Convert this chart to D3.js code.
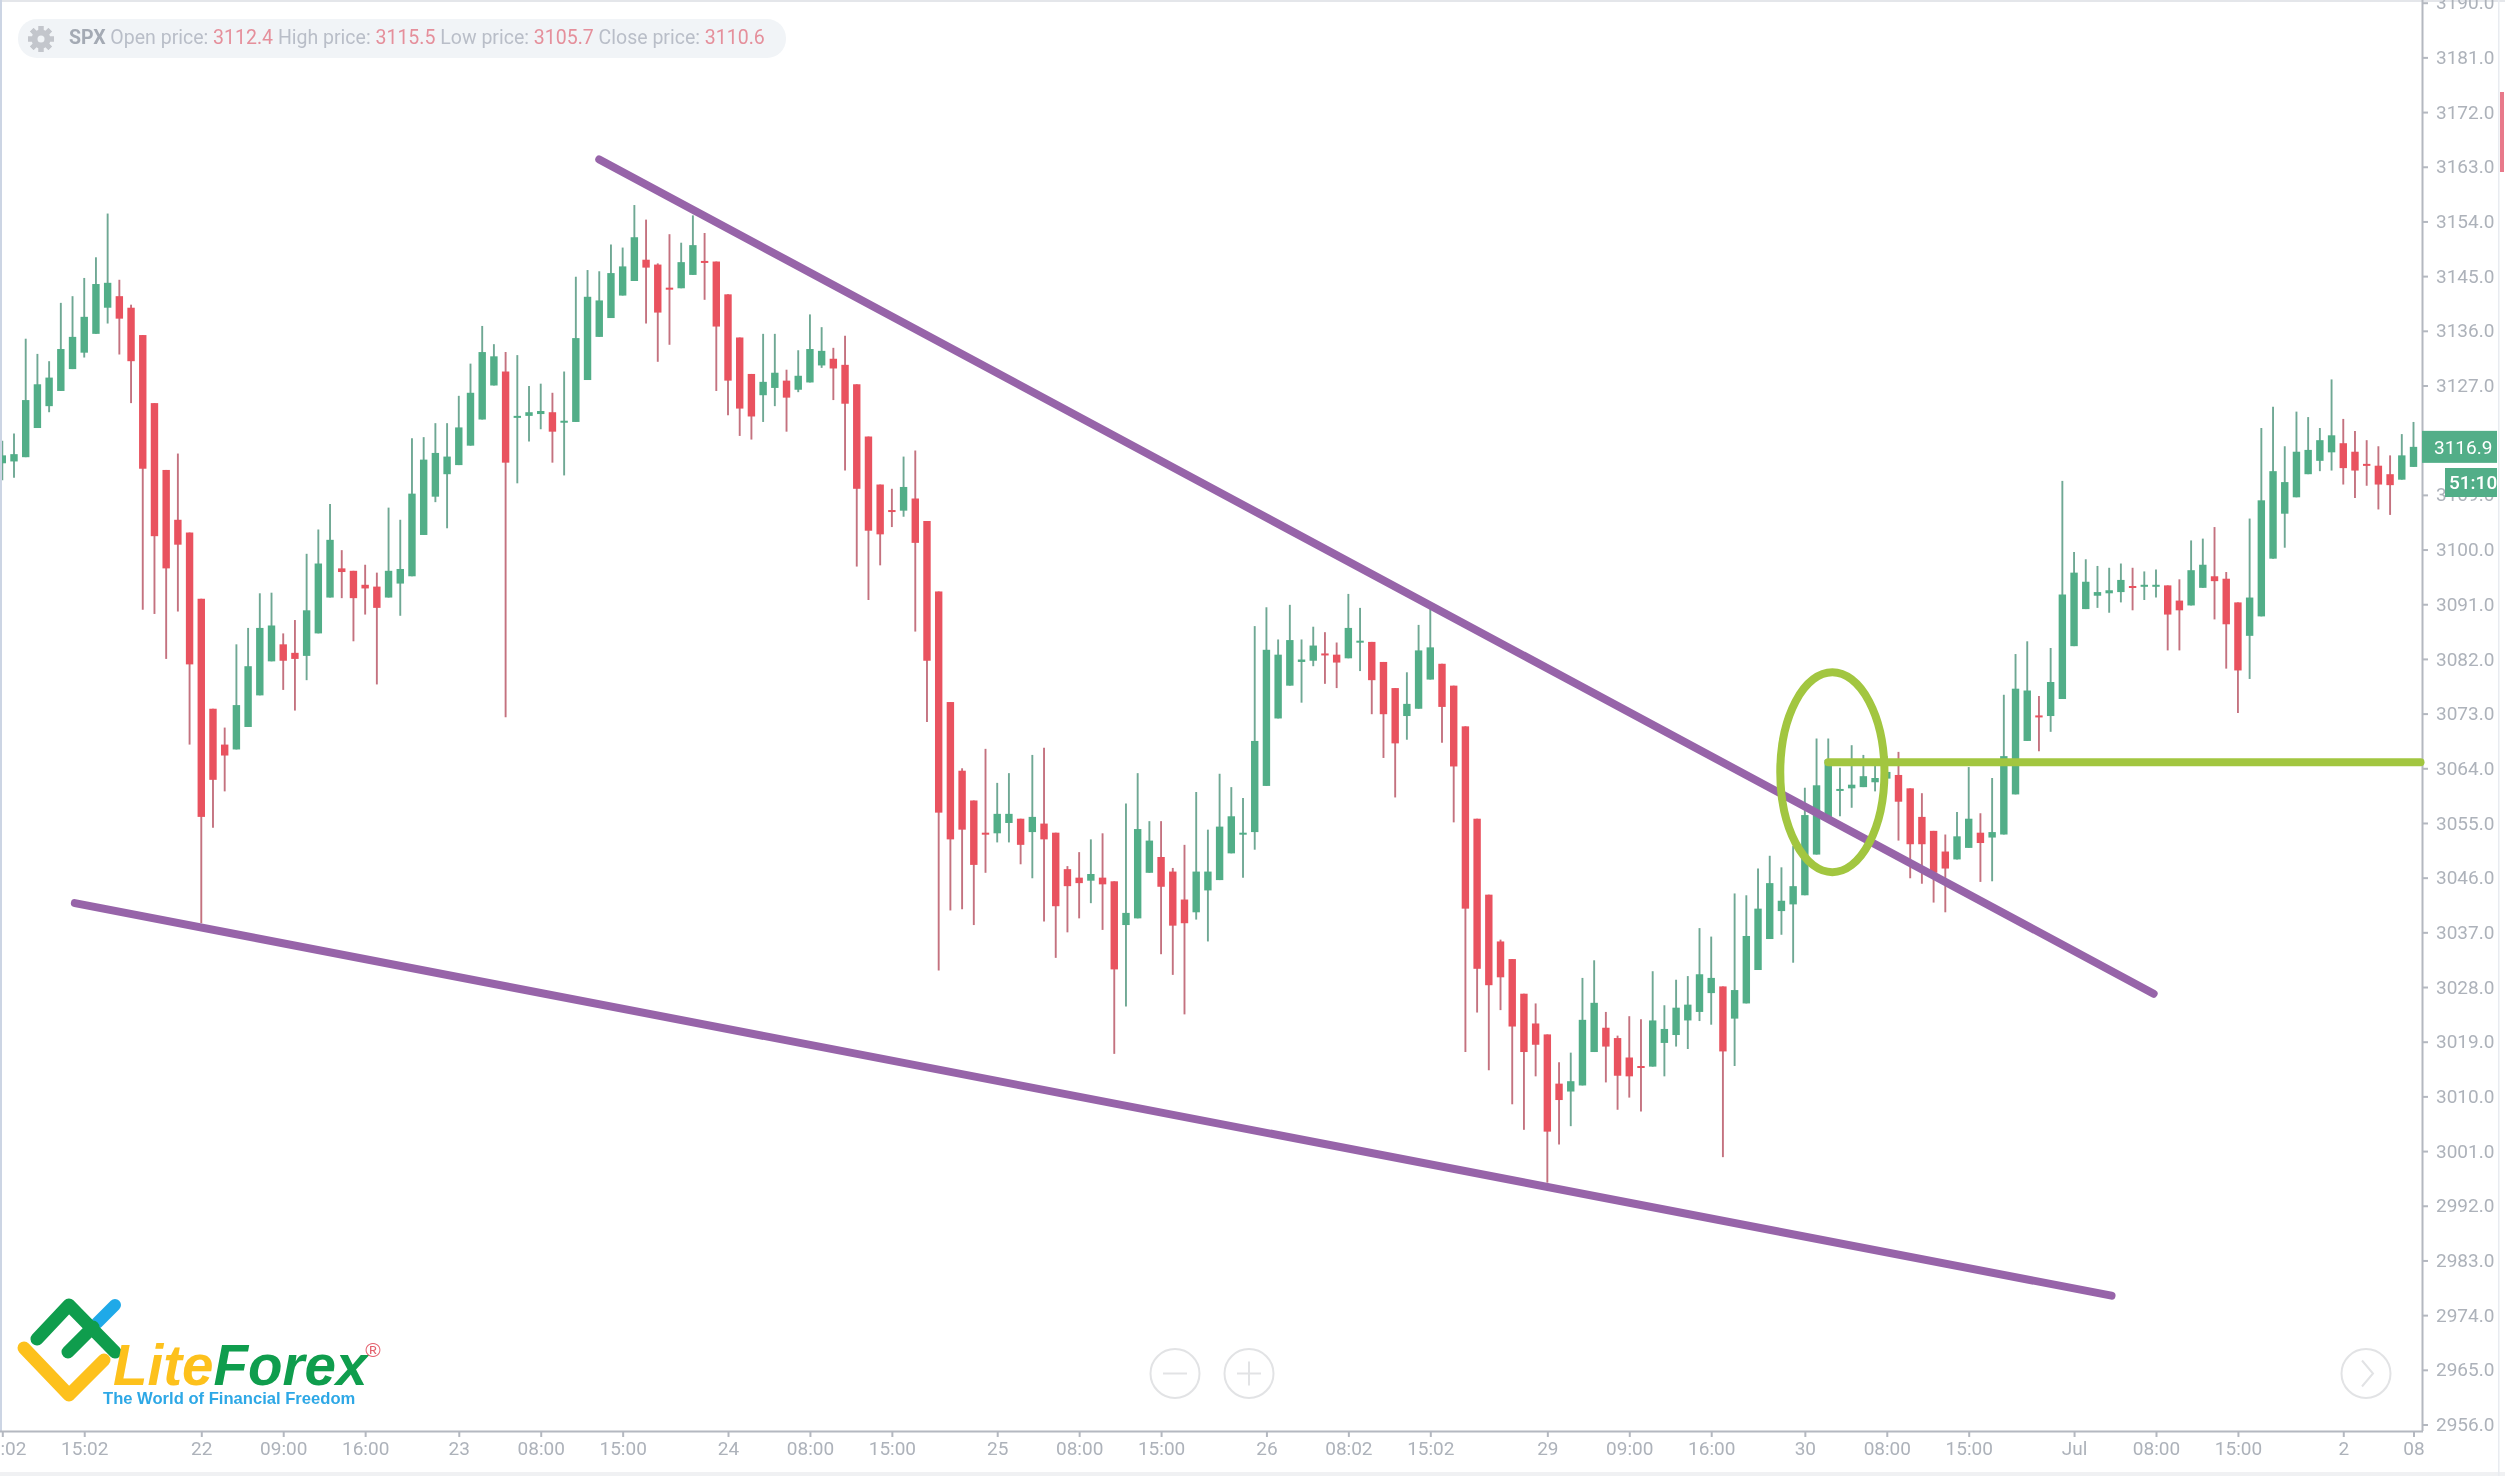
<!DOCTYPE html>
<html>
<head>
<meta charset="utf-8">
<title>SPX</title>
<script src="https://d3js.org/d3.v7.min.js"></script>
<style>
  html, body { margin: 0; padding: 0; background: #fff; overflow: hidden; }
  svg { display: block; filter: blur(0.7px); }
  text { font-family: Roboto, sans-serif; }
</style>
</head>
<body>
<div id="chart"></div>
<script>
"use strict";

// hourly SPX candles
const opens = [
  3114.2,3114.5,3115.2,3120.0,3123.6,3126.1,3129.7,3132.4,3135.5,3139.8,
  3141.7,3139.8,3135.3,3124.1,3113.1,3104.9,3102.8,3091.9,3073.8,3067.9,
  3067.1,3070.8,3076.0,3081.6,3084.4,3083.0,3082.5,3086.2,3092.1,3096.9,
  3096.5,3094.2,3093.9,3092.1,3094.4,3095.6,3102.4,3108.7,3112.4,3113.9,
  3117.1,3121.4,3127.0,3129.3,3121.8,3122.0,3122.3,3122.6,3121.0,3121.0,
  3127.9,3135.0,3138.1,3141.8,3144.2,3147.7,3146.9,3143.1,3143.0,3145.2,
  3147.5,3147.4,3142.0,3134.9,3128.9,3125.4,3126.6,3127.8,3126.3,3127.5,
  3130.3,3131.4,3130.4,3127.2,3118.6,3110.7,3106.5,3106.4,3108.4,3104.7,
  3093.1,3074.9,3063.6,3058.7,3053.4,3053.3,3055.0,3055.7,3053.5,3054.9,
  3053.4,3047.4,3046.0,3045.5,3046.0,3045.4,3038.2,3039.3,3046.8,3049.4,
  3047.0,3042.4,3040.3,3043.9,3045.6,3050.0,3053.2,3053.5,3061.1,3072.2,
  3077.6,3081.5,3081.7,3082.9,3082.7,3082.1,3084.8,3084.8,3081.5,3077.2,
  3072.6,3073.8,3078.6,3081.2,3077.6,3070.9,3055.7,3043.2,3035.5,3032.6,
  3026.9,3022.0,3020.2,3012.1,3010.8,3011.8,3017.3,3021.3,3019.6,3016.4,
  3015.0,3014.9,3018.8,3020.1,3022.5,3023.9,3027.0,3028.1,3022.8,3025.3,
  3030.8,3035.9,3040.5,3041.6,3043.1,3049.8,3056.0,3060.4,3060.7,3060.9,
  3061.7,3062.3,3062.9,3060.7,3056.0,3053.7,3050.3,3049.0,3050.9,3053.4,
  3052.6,3053.1,3059.7,3068.5,3072.7,3072.6,3075.4,3084.1,3090.2,3092.4,
  3092.8,3093.0,3094.0,3094.0,3094.0,3094.1,3091.6,3090.8,3093.7,3095.6,
  3095.2,3091.3,3085.8,3089.0,3098.5,3105.9,3108.6,3112.4,3114.6,3116.0,
  3117.5,3116.1,3114.1,3113.8,3112.4,3111.5,3113.6
];
const highs = [
  3117.9,3119.1,3134.7,3132.2,3131.0,3140.6,3141.7,3144.7,3148.1,3155.3,
  3144.4,3140.3,3135.3,3124.1,3113.1,3115.8,3102.8,3091.9,3073.8,3070.7,
  3084.4,3087.1,3092.8,3092.9,3086.2,3088.4,3099.3,3103.3,3107.5,3099.9,
  3096.5,3097.5,3096.2,3106.9,3104.9,3118.3,3118.5,3120.8,3120.8,3125.3,
  3130.6,3136.8,3133.8,3132.5,3132.0,3126.9,3127.3,3125.8,3129.3,3144.9,
  3146.0,3145.8,3150.2,3149.7,3156.7,3154.3,3147.1,3151.9,3150.5,3155.0,
  3152.1,3147.4,3142.0,3134.9,3128.9,3135.5,3135.5,3129.6,3132.8,3138.7,
  3136.6,3133.2,3135.2,3127.2,3118.6,3110.7,3110.0,3115.3,3116.3,3104.7,
  3093.1,3074.9,3064.0,3058.7,3067.2,3061.6,3063.2,3055.7,3066.2,3067.4,
  3053.4,3047.9,3050.2,3052.3,3053.3,3045.4,3058.2,3063.2,3055.3,3055.3,
  3047.6,3051.4,3060.1,3053.9,3063.1,3060.9,3059.1,3087.4,3090.5,3085.2,
  3090.9,3085.2,3087.3,3086.4,3084.7,3092.7,3090.4,3084.8,3081.5,3077.2,
  3079.8,3087.6,3090.2,3081.2,3077.6,3070.9,3055.7,3043.2,3035.8,3032.6,
  3026.9,3025.3,3020.2,3015.6,3017.2,3029.5,3032.4,3023.9,3020.0,3023.2,
  3022.7,3030.6,3025.0,3029.2,3029.8,3037.7,3036.3,3028.1,3043.4,3043.1,
  3047.5,3049.6,3047.7,3051.2,3060.8,3068.9,3068.9,3064.1,3067.8,3066.2,
  3064.4,3066.0,3066.7,3060.7,3059.9,3053.7,3053.1,3056.8,3064.2,3056.6,
  3062.4,3076.1,3082.8,3084.9,3075.9,3083.8,3111.3,3099.6,3098.4,3097.3,
  3097.0,3097.7,3097.0,3096.4,3096.7,3094.1,3095.1,3101.5,3101.8,3103.7,
  3096.3,3091.3,3105.1,3120.0,3123.5,3117.0,3122.7,3121.8,3120.0,3128.0,
  3121.5,3119.5,3118.0,3117.0,3115.5,3119.0,3121.0
];
const lows = [
  3111.4,3111.8,3115.2,3120.0,3122.6,3126.1,3129.7,3131.6,3135.5,3137.2,
  3132.1,3124.1,3090.1,3089.4,3082.0,3089.8,3067.9,3038.5,3054.2,3060.2,
  3067.1,3070.8,3076.0,3081.6,3076.9,3073.5,3078.5,3086.2,3092.1,3092.0,
  3084.9,3089.3,3077.8,3092.1,3089.1,3095.6,3102.4,3107.8,3103.5,3113.9,
  3117.1,3121.4,3127.0,3072.4,3110.9,3117.8,3119.8,3114.3,3112.2,3121.0,
  3127.9,3135.0,3138.1,3141.8,3144.2,3137.2,3130.9,3133.7,3143.0,3145.2,
  3141.1,3126.1,3122.1,3118.7,3118.1,3121.0,3123.6,3119.4,3125.9,3127.5,
  3129.9,3124.6,3113.0,3097.2,3091.7,3097.4,3103.7,3105.4,3086.5,3071.6,
  3030.7,3040.6,3040.8,3038.2,3046.8,3051.8,3051.8,3048.2,3045.9,3038.8,
  3032.8,3037.0,3039.3,3041.8,3037.4,3017.0,3024.8,3039.3,3046.8,3033.4,
  3030.0,3023.5,3039.1,3035.5,3045.6,3050.0,3046.0,3050.6,3061.1,3072.2,
  3077.6,3074.8,3080.8,3077.9,3077.2,3082.1,3080.0,3072.9,3065.7,3059.2,
  3068.7,3073.8,3078.6,3068.2,3055.1,3017.3,3023.8,3014.3,3024.2,3008.7,
  3004.5,3013.3,2995.8,3002.1,3005.1,3011.8,3017.3,3012.3,3007.8,3009.8,
  3007.5,3014.9,3013.3,3018.2,3017.8,3022.4,3021.8,3000.0,3015.0,3025.3,
  3030.8,3035.9,3036.6,3032.0,3043.1,3049.8,3055.5,3056.1,3057.5,3060.9,
  3060.2,3062.3,3052.1,3045.9,3045.0,3041.9,3040.3,3049.0,3050.9,3045.3,
  3045.4,3053.1,3059.7,3068.5,3066.8,3070.0,3075.4,3084.1,3090.2,3090.4,
  3089.6,3091.3,3090.0,3091.7,3092.1,3083.4,3083.4,3090.8,3093.7,3088.5,
  3080.4,3073.1,3078.7,3089.0,3098.5,3100.3,3108.6,3112.4,3112.9,3113.0,
  3110.7,3108.5,3110.5,3106.6,3105.7,3111.5,3113.6
];
const closes = [
  3115.5,3115.7,3124.6,3127.2,3128.3,3133.0,3135.0,3138.3,3143.7,3143.9,
  3138.0,3131.0,3113.3,3102.2,3096.9,3100.8,3081.1,3056.0,3062.1,3066.1,
  3074.4,3080.8,3087.1,3087.5,3081.7,3082.0,3090.0,3097.7,3101.6,3096.3,
  3092.0,3093.6,3090.4,3096.5,3096.8,3109.2,3114.8,3115.9,3115.3,3120.1,
  3125.8,3132.5,3131.8,3114.3,3122.0,3122.6,3122.8,3119.4,3121.2,3134.8,
  3141.6,3141.0,3145.5,3146.6,3151.4,3146.4,3139.0,3142.9,3147.3,3150.1,
  3147.3,3136.7,3127.8,3123.2,3121.9,3127.6,3129.1,3125.0,3128.6,3133.0,
  3132.7,3129.8,3124.0,3110.0,3103.1,3102.5,3106.3,3110.3,3101.1,3081.7,
  3056.7,3052.3,3053.9,3048.1,3053.2,3056.5,3056.5,3051.4,3056.0,3052.3,
  3041.3,3044.6,3045.1,3046.6,3044.9,3030.9,3040.2,3054.0,3052.1,3044.5,
  3038.1,3038.5,3047.0,3047.0,3054.4,3056.1,3053.4,3068.5,3083.5,3082.7,
  3085.1,3081.9,3084.2,3082.7,3081.4,3087.1,3085.0,3078.5,3072.9,3068.1,
  3074.6,3083.4,3083.9,3074.1,3064.3,3040.9,3031.0,3028.3,3029.6,3021.5,
  3017.3,3018.5,3004.2,3009.4,3012.5,3022.6,3025.4,3018.2,3013.4,3013.3,
  3014.8,3022.5,3021.1,3024.6,3025.1,3030.1,3029.5,3017.4,3027.5,3036.4,
  3040.9,3045.1,3042.2,3044.6,3056.3,3061.2,3065.4,3060.6,3061.3,3062.7,
  3062.4,3063.4,3058.5,3051.5,3051.5,3046.8,3047.5,3052.8,3055.7,3051.7,
  3053.5,3066.0,3077.1,3076.8,3072.5,3078.2,3092.6,3096.2,3094.7,3093.0,
  3093.3,3095.0,3093.8,3094.2,3094.2,3089.3,3090.0,3096.6,3097.5,3094.8,
  3087.7,3080.1,3092.1,3108.1,3112.9,3111.1,3116.1,3116.4,3118.0,3118.8,
  3113.4,3113.0,3113.9,3110.7,3110.6,3115.5,3116.9
];

// axis labels
const priceTicks = d3.range(2956, 3191, 9);
const timeTicks = [0,7,17,24,31,39,46,53,62,69,76,85,92,99,108,115,122,132,139,146,154,161,168,177,184,191,200,206];
const timeLabels = ["08:02","15:02","22","09:00","16:00","23","08:00","15:00","24","08:00","15:00","25","08:00","15:00","26","08:02","15:02","29","09:00","16:00","30","08:00","15:00","Jul","08:00","15:00","2","08"];

// hand drawn overlays, as [candle index, price]
const upperTrend = [[51, 3164.2], [183.8, 3026.9]];
const lowerTrend = [[6.2, 3041.8], [180.2, 2977.2]];
const levelLine = [[156, 3065.0], [206.6, 3065.0]];
const breakoutBox = { i0: 151.9, i1: 160.8, top: 3079.8, bottom: 3046.9 };

const headerParts = [
  ["SPX", "sym"], [" Open price: ", "lab"], ["3112.4", "val"],
  [" High price: ", "lab"], ["3115.5", "val"],
  [" Low price: ", "lab"], ["3105.7", "val"],
  [" Close price: ", "lab"], ["3110.6", "val"]
];
const lastPrice = 3116.9;
const countdown = "51:10";

const svgWidth = 2505, svgHeight = 1476;
const plot = { left: 2, right: 2422, top: 0, bottom: 1431 };
const green = "#52ae88", red = "#e9525f";
const axisColor = "#b4b8c0", labelColor = "#adb2ba";

const svg = d3.select("#chart").append("svg")
  .attr("width", svgWidth)
  .attr("height", svgHeight);

const xScale = d3.scaleLinear().domain([0, 206]).range([2.3, 2413.5]);
const yScale = d3.scaleLinear().domain([2956, 3190]).range([1424.5, 2.7]);

svg.append("defs").append("clipPath").attr("id", "plotClip").append("rect")
  .attr("x", plot.left).attr("y", plot.top)
  .attr("width", plot.right - plot.left).attr("height", plot.bottom - plot.top);

// page frame
svg.append("rect").attr("width", svgWidth).attr("height", svgHeight).attr("fill", "#fff");
svg.append("rect").attr("x", 0).attr("y", 0).attr("width", svgWidth).attr("height", 2).attr("fill", "#e4e6ea");
svg.append("rect").attr("x", 0).attr("y", 0).attr("width", 2).attr("height", plot.bottom).attr("fill", "#ccd5e4");
svg.append("rect").attr("x", 0).attr("y", 1472).attr("width", svgWidth).attr("height", 4).attr("fill", "#f0f1f3");
svg.append("rect").attr("x", 2498).attr("y", 0).attr("width", 1.5).attr("height", svgHeight).attr("fill", "#e8ebf0");
svg.append("rect").attr("x", 2500).attr("y", 92).attr("width", 4).attr("height", 80).attr("fill", "#e8798a");

// axes
const yAxis = d3.axisRight(yScale).tickValues(priceTicks).tickSize(6).tickSizeOuter(0).tickPadding(8)
  .tickFormat(d3.format(".1f"));
const xAxis = d3.axisBottom(xScale).tickValues(timeTicks).tickSize(6).tickSizeOuter(0).tickPadding(5)
  .tickFormat(d => timeLabels[timeTicks.indexOf(d)]);

const yG = svg.append("g").attr("transform", `translate(${plot.right},0)`).call(yAxis);
const xG = svg.append("g").attr("transform", `translate(0,${plot.bottom})`).call(xAxis);

// axis lines run the whole frame, not just the scale range
yG.select(".domain").attr("d", `M0.5,0V${plot.bottom}`);
xG.select(".domain").attr("d", `M0,0.5H${plot.right + 1}`);

[yG, xG].forEach(g => {
  g.select(".domain").attr("stroke", axisColor).attr("stroke-width", 2);
  g.selectAll(".tick line").attr("stroke", axisColor).attr("stroke-width", 2);
  g.selectAll(".tick text")
    .attr("fill", labelColor)
    .attr("font-family", "Roboto, sans-serif")
    .attr("font-size", 19);
});

// candles
const candles = d3.range(opens.length).map(i => ({
  i, open: opens[i], high: highs[i], low: lows[i], close: closes[i]
}));
const up = d => d.close >= d.open;
const candleG = svg.append("g").attr("clip-path", "url(#plotClip)");

candleG.selectAll("line.wick").data(candles).enter().append("line")
  .attr("class", "wick")
  .attr("x1", d => xScale(d.i)).attr("x2", d => xScale(d.i))
  .attr("y1", d => yScale(d.high)).attr("y2", d => yScale(d.low))
  .attr("stroke", d => up(d) ? "#6fa894" : "#c4727f")
  .attr("stroke-width", 1.9);

const bodyWidth = 7.4;
candleG.selectAll("rect.body").data(candles).enter().append("rect")
  .attr("class", "body")
  .attr("x", d => xScale(d.i) - bodyWidth / 2)
  .attr("width", bodyWidth)
  .attr("y", d => yScale(Math.max(d.open, d.close)))
  .attr("height", d => Math.max(2, Math.abs(yScale(d.open) - yScale(d.close))))
  .attr("fill", d => up(d) ? green : red);

// overlays
const line = d3.line().x(d => xScale(d[0])).y(d => yScale(d[1]));
[upperTrend, lowerTrend].forEach(pts => {
  svg.append("path").attr("d", line(pts))
    .attr("fill", "none").attr("stroke", "#9764a9")
    .attr("stroke-width", 8).attr("stroke-linecap", "round");
});
svg.append("path").attr("d", line(levelLine))
  .attr("fill", "none").attr("stroke", "#a2c640")
  .attr("stroke-width", 8).attr("stroke-linecap", "round");
svg.append("ellipse")
  .attr("cx", (xScale(breakoutBox.i0) + xScale(breakoutBox.i1)) / 2)
  .attr("cy", (yScale(breakoutBox.top) + yScale(breakoutBox.bottom)) / 2)
  .attr("rx", (xScale(breakoutBox.i1) - xScale(breakoutBox.i0)) / 2)
  .attr("ry", (yScale(breakoutBox.bottom) - yScale(breakoutBox.top)) / 2)
  .attr("fill", "none").attr("stroke", "#a2c640").attr("stroke-width", 8);

// last price + countdown labels
svg.append("rect").attr("x", plot.right).attr("y", yScale(lastPrice) - 16)
  .attr("width", 75).attr("height", 32).attr("fill", green);
svg.append("text").attr("x", 2434).attr("y", yScale(lastPrice) + 7)
  .attr("fill", "#fff").attr("font-size", 19).text(lastPrice.toFixed(1));
svg.append("rect").attr("x", 2445).attr("y", 468).attr("width", 52).attr("height", 29).attr("fill", green);
svg.append("text").attr("x", 2449).attr("y", 489).attr("fill", "#fff")
  .attr("font-size", 19).attr("font-weight", 500).text(countdown);

// header pill
svg.append("rect").attr("x", 18).attr("y", 19).attr("width", 768).attr("height", 39)
  .attr("rx", 19).attr("fill", "#f1f4f7");
const gear = svg.append("g").attr("transform", "translate(41,39)");
d3.range(8).forEach(k => {
  gear.append("rect").attr("x", -2.5).attr("y", -13).attr("width", 5).attr("height", 26)
    .attr("fill", "#c3c6cc").attr("transform", `rotate(${k * 45})`);
});
gear.append("circle").attr("r", 9.5).attr("fill", "#c3c6cc");
gear.append("circle").attr("r", 3.5).attr("fill", "#f1f4f7");
const headerStyle = {
  sym: { fill: "#a4aab4", weight: 700 },
  lab: { fill: "#b9bec8", weight: 400 },
  val: { fill: "#e58f9b", weight: 400 }
};
svg.append("text").attr("x", 69).attr("y", 44).attr("font-size", 19.5)
  .selectAll("tspan").data(headerParts).enter().append("tspan")
  .attr("fill", d => headerStyle[d[1]].fill)
  .attr("font-weight", d => headerStyle[d[1]].weight)
  .style("white-space", "pre")
  .text(d => d[0]);

// zoom + scroll buttons
const btn = { stroke: "#e2e3e5", width: 2 };
[[1175, "minus"], [1249, "plus"], [2366, "next"]].forEach(([cx, kind]) => {
  const g = svg.append("g").attr("transform", `translate(${cx},1373.5)`)
    .attr("fill", "none").attr("stroke", btn.stroke).attr("stroke-width", btn.width);
  g.append("circle").attr("r", 24.5);
  if (kind === "next") {
    g.append("path").attr("d", "M-4,-13L7,0L-4,13");
  } else {
    g.append("path").attr("d", "M-12,0H12");
    if (kind === "plus") g.append("path").attr("d", "M0,-12V12");
  }
});

// logo
const logo = svg.append("g").attr("fill", "none").attr("stroke-linecap", "round")
  .attr("stroke-linejoin", "round").attr("transform", "translate(0,1280)");
logo.append("path").attr("d", "M115,25L97,43").attr("stroke", "#1fa9e8").attr("stroke-width", 12);
logo.append("path").attr("d", "M37,59L69,25L115,72M68,72L93,47").attr("stroke", "#0f9d4d").attr("stroke-width", 13);
logo.append("path").attr("d", "M24,68L69,115L104,80").attr("stroke", "#fdc11c").attr("stroke-width", 13);

const logoText = svg.append("text").attr("x", 113).attr("y", 1385)
  .attr("font-size", 56.5).attr("font-weight", 700).attr("font-style", "italic")
  .style("font-family", "'Liberation Sans', sans-serif");
logoText.append("tspan").attr("fill", "#fdc11c").text("Lite");
logoText.append("tspan").attr("fill", "#0f9d4d").text("Forex");
svg.append("text").attr("x", 373).attr("y", 1357).attr("text-anchor", "middle")
  .attr("font-size", 21).attr("fill", "#e4606d")
  .style("font-family", "'Liberation Sans', sans-serif").text("®");
svg.append("text").attr("x", 103).attr("y", 1404)
  .attr("font-size", 16.6).attr("font-weight", 700).attr("fill", "#2ea8e6")
  .style("font-family", "'Liberation Sans', sans-serif")
  .text("The World of Financial Freedom");
</script>
</body>
</html>
